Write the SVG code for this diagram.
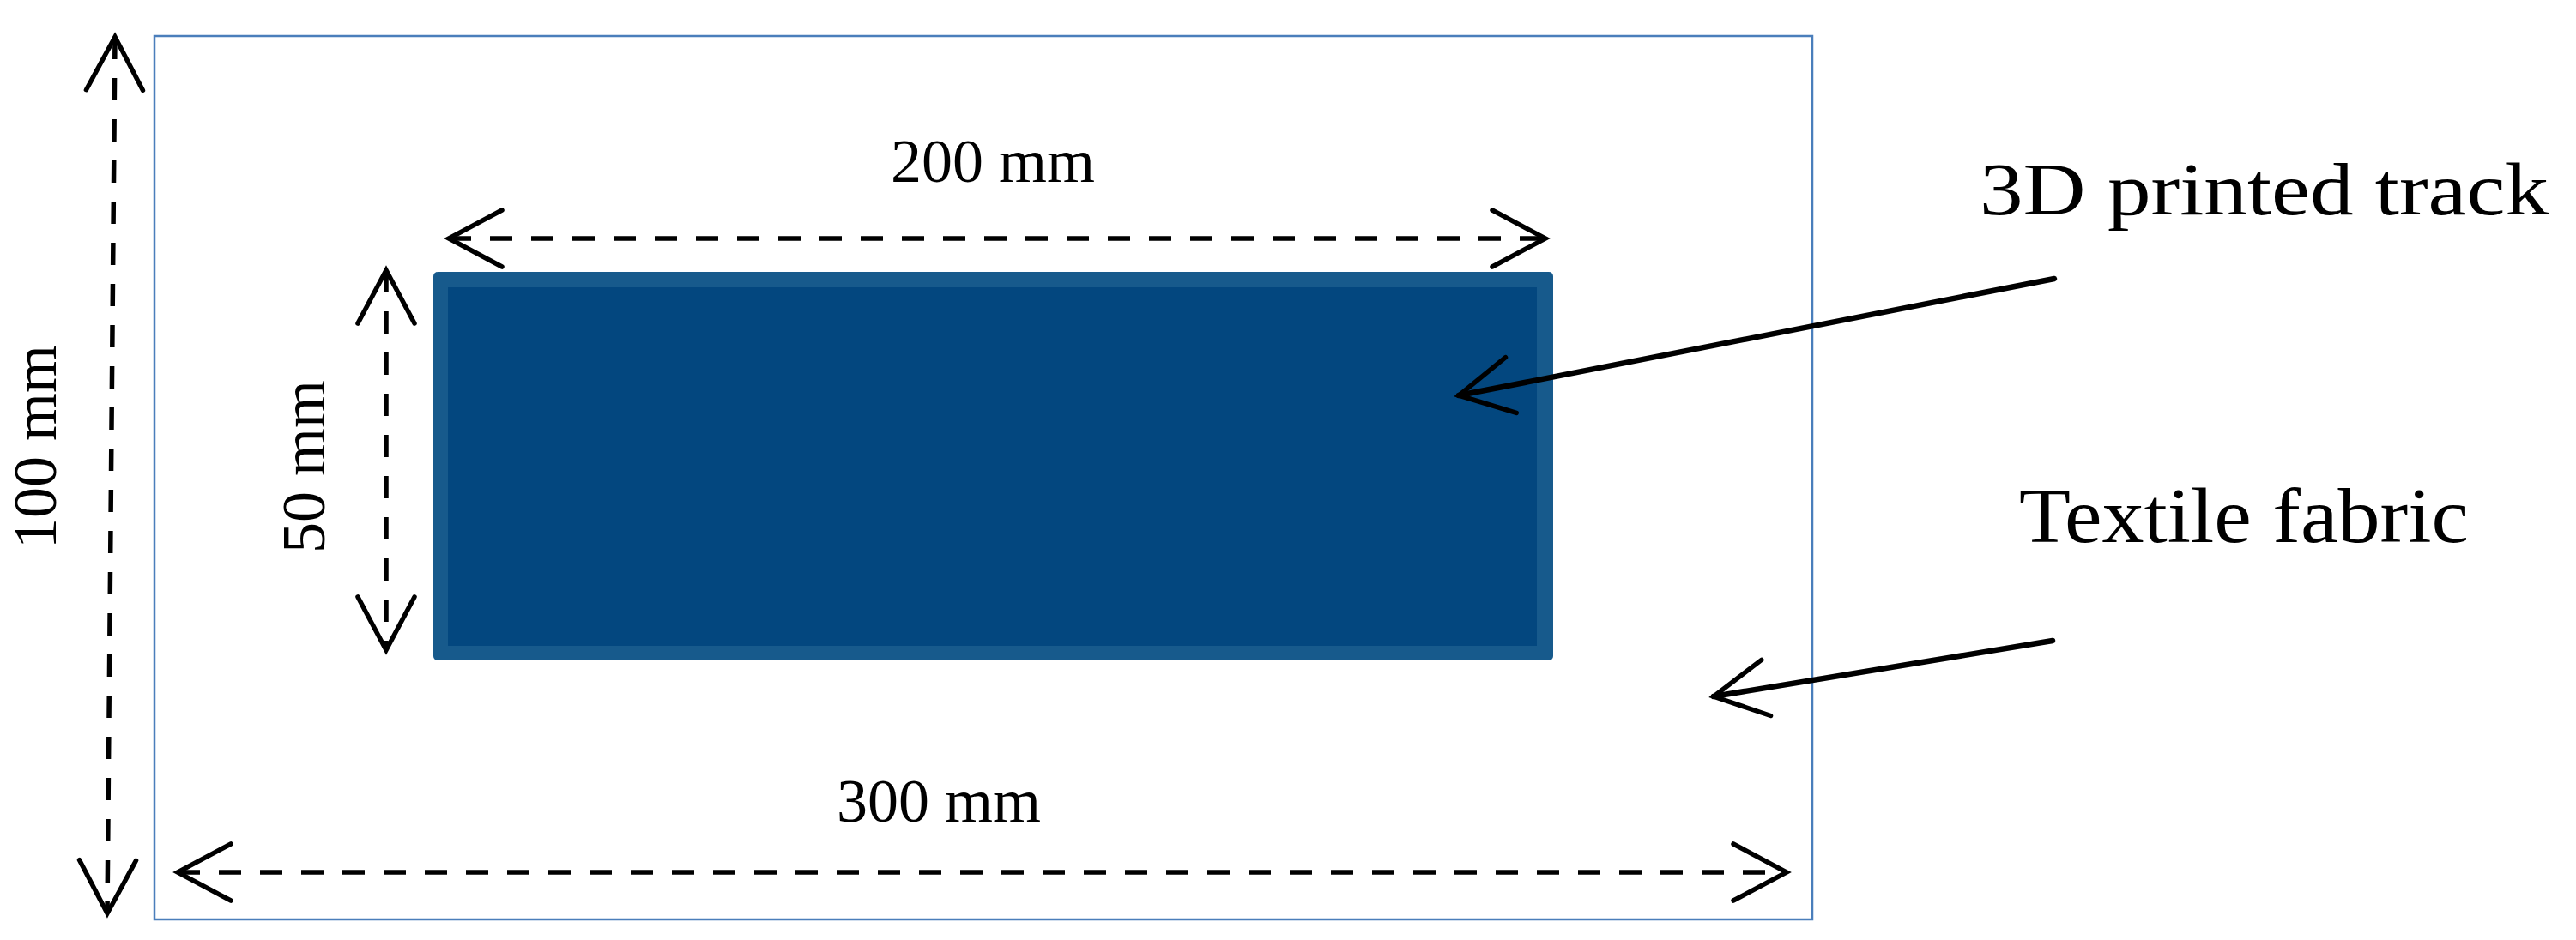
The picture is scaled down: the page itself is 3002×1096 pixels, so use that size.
<svg xmlns="http://www.w3.org/2000/svg" width="3002" height="1096" viewBox="0 0 3002 1096">
  <style>
    .dim { fill: none; stroke: #000; stroke-width: 5.5; stroke-dasharray: 26 22; marker-start: url(#v); marker-end: url(#v); }
    .lead { fill: none; stroke: #000; stroke-width: 6.5; stroke-linecap: round; marker-end: url(#v); }
    .lbl { font-family: "Liberation Serif", "Times New Roman", serif; fill: #000; }
    .dimtxt { font-size: 72px; }
  </style>
  <defs>
    <marker id="v" markerUnits="userSpaceOnUse" viewBox="-80 -45 90 90" refX="0" refY="0" markerWidth="90" markerHeight="90" orient="auto-start-reverse" overflow="visible">
      <path d="M-62,-33 L0,0 L-62,33" fill="none" stroke="#000" stroke-width="5.5" stroke-dasharray="none" stroke-linecap="round" stroke-linejoin="miter"/>
    </marker>
  </defs>
  <rect width="3002" height="1096" fill="#fff"/>

  <g id="textile-fabric">
    <rect x="180" y="42" width="1932" height="1030" fill="#fff" stroke="#4a7ebb" stroke-width="2.5"/>
  </g>

  <g id="printed-track">
    <rect x="505" y="317" width="1305" height="453" rx="5" fill="#175a8c"/>
    <rect x="522" y="335" width="1269" height="418" fill="#03477f"/>
  </g>

  <g id="connectors">
    <path class="dim" d="M134,43 L125,1065"/>
    <path class="dim" d="M207,1017 L2082,1017"/>
    <path class="dim" d="M523,278 L1801,278"/>
    <path class="dim" d="M450,315 L450,758"/>
    <path class="lead" d="M2394,325 L1700,461"/>
    <path class="lead" d="M2392,747 L1997,812"/>
  </g>

  <g id="labels">
    <text class="lbl dimtxt" x="1038" y="212">200 mm</text>
    <text class="lbl dimtxt" x="975" y="958">300 mm</text>
    <text class="lbl dimtxt" transform="translate(65,640) rotate(-90)">100 mm</text>
    <text class="lbl dimtxt" transform="translate(378,645) rotate(-90)">50 mm</text>
    <text class="lbl" x="2307" y="250" font-size="87" textLength="663" lengthAdjust="spacingAndGlyphs">3D printed track</text>
    <text class="lbl" x="2353" y="632" font-size="90" textLength="524" lengthAdjust="spacingAndGlyphs">Textile fabric</text>
  </g>
</svg>
